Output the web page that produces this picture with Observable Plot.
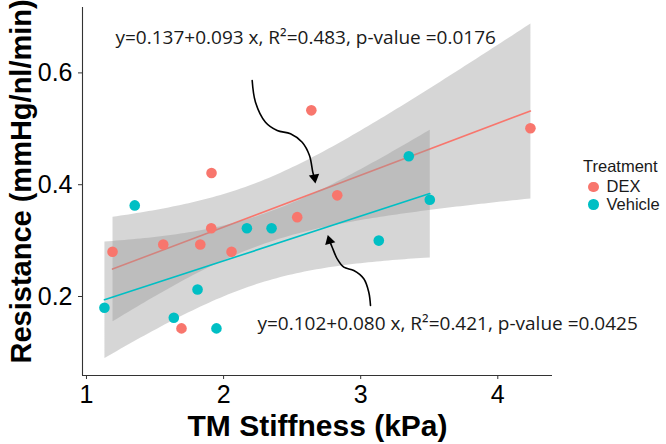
<!DOCTYPE html>
<html>
<head>
<meta charset="utf-8">
<script src="https://cdn.jsdelivr.net/npm/d3@7"></script>
<script src="https://cdn.jsdelivr.net/npm/@observablehq/plot@0.6"></script>
<style>
  body { margin: 0; background: #fff; }
  #wrap { position: relative; width: 666px; height: 444px; }
  #legend { position: absolute; left: 583px; top: 158px; font-family: "Liberation Sans", Arial, sans-serif; color: #1a1a1a; }
  #legend .title { font-size: 16.5px; line-height: 17px; height: 20px; }
  #legend .row { display: flex; align-items: center; height: 17.5px; font-size: 16.5px; }
  #legend .sw { width: 10.5px; height: 10.5px; border-radius: 50%; margin: 0 8px 0 5px; }
</style>
</head>
<body>
<div id="wrap"></div>
<script>
// ---- data ----
const treatments = ["DEX", "Vehicle"];
const colors = ["#F8766D", "#00BFC4"];

const dexStiffness  = [1.19, 1.56, 1.693, 1.83, 1.91, 1.912, 2.058, 2.537, 2.64, 2.829, 4.238];
const dexResistance = [0.280, 0.293, 0.143, 0.293, 0.322, 0.421, 0.280, 0.342, 0.533, 0.381, 0.501];

const vehStiffness  = [1.131, 1.352, 1.637, 1.81, 1.948, 2.17, 2.35, 3.132, 3.351, 3.504];
const vehResistance = [0.180, 0.363, 0.162, 0.2125, 0.143, 0.322, 0.322, 0.300, 0.451, 0.373];

const xTicks = [1, 2, 3, 4];
const yTicks = [0.2, 0.4, 0.6];
const xDomain = [0.971, 4.399];
const yDomain = [0.0587, 0.717];
const xTitle = "TM Stiffness (kPa)";
const yTitle = "Resistance (mmHg/nl/min)";
const legendTitle = "Treatment";

const annotationText = [
  "y=0.137+0.093 x, R\u00B2=0.483, p-value =0.0176",
  "y=0.102+0.080 x, R\u00B2=0.421, p-value =0.0425"
];
const annotationX = [1.2115, 2.247];
const annotationY = [0.6526, 0.1392];

// curved arrow paths (data units)
const arrow1X = [2.2086, 2.2327, 2.3056, 2.391, 2.488, 2.5733, 2.6265, 2.6506, 2.660];
const arrow1Y = [0.5864, 0.5476, 0.5118, 0.497, 0.4911, 0.476, 0.4522, 0.4224, 0.414];
const arrow2X = [3.0715, 3.059, 3.0226, 2.9497, 2.8767, 2.8286, 2.7921, 2.774];
const arrow2Y = [0.1839, 0.2077, 0.2317, 0.2465, 0.2524, 0.2674, 0.2882, 0.299];
const headX = [2.663, 2.772];
const headY = [0.4128, 0.2998];
const headAngle = [171, -16];

// ---- build tables ----
const data = [
  ...dexStiffness.map((x, i) => ({Treatment: "DEX", stiffness: x, resistance: dexResistance[i]})),
  ...vehStiffness.map((x, i) => ({Treatment: "Vehicle", stiffness: x, resistance: vehResistance[i]}))
];
const arrowPts = [
  ...arrow1X.map((x, i) => ({id: 1, x, y: arrow1Y[i]})),
  ...arrow2X.map((x, i) => ({id: 2, x, y: arrow2Y[i]}))
];
const heads = headX.map((x, i) => ({x, y: headY[i], angle: headAngle[i]}));
const annotations = annotationText.map((t, i) => ({t, x: annotationX[i], y: annotationY[i]}));

const font = "'Liberation Sans', Arial, sans-serif";

const plot = Plot.plot({
  width: 666,
  height: 444,
  marginLeft: 82,
  marginRight: 114,
  marginTop: 7,
  marginBottom: 69,
  style: {fontFamily: font, background: "#fff", color: "#000", overflow: "visible"},
  x: {domain: xDomain},
  y: {domain: yDomain},
  color: {domain: treatments, range: colors},
  marks: [
    Plot.linearRegressionY(data, {x: "stiffness", y: "resistance", stroke: "Treatment", fill: "#999999", fillOpacity: 0.4, strokeWidth: 1.6}),
    Plot.dot(data, {x: "stiffness", y: "resistance", fill: "Treatment", r: 5.3}),
    Plot.line(arrowPts, {x: "x", y: "y", z: "id", curve: "catmull-rom", stroke: "#000", strokeWidth: 1.6}),
    Plot.dot(heads, {x: "x", y: "y", symbol: "triangle", r: 3.9, fill: "#000", rotate: "angle"}),
    Plot.text(annotations, {x: "x", y: "y", text: "t", textAnchor: "start", lineAnchor: "bottom", fontFamily: "'Open Sans', sans-serif", fontSize: 19, fill: "#1a1a1a"}),
    Plot.ruleX([xDomain[0]], {stroke: "#333", strokeWidth: 1.1}),
    Plot.ruleY([yDomain[0]], {stroke: "#333", strokeWidth: 1.1}),
    Plot.axisX({ticks: xTicks, tickSize: 4, tickPadding: 6, fontSize: 25, label: null, stroke: "#333", fill: "#000", tickFormat: d3.format("d")}),
    Plot.axisY({ticks: yTicks, tickSize: 4, tickPadding: 6, fontSize: 25, label: null, stroke: "#333", fill: "#000", tickFormat: d3.format(".1f")}),
    Plot.text([xTitle], {text: d => d, frameAnchor: "bottom", dy: 60, lineAnchor: "bottom", fontSize: 30, fontWeight: "bold", fill: "#000"}),
    Plot.text([yTitle], {text: d => d, frameAnchor: "bottom-left", dx: -52, dy: -12, rotate: -90, textAnchor: "start", lineAnchor: "bottom", fontSize: 29, fontWeight: "bold", fill: "#000"})
  ]
});

const wrap = document.getElementById("wrap");
wrap.appendChild(plot);

// legend
const legend = document.createElement("div");
legend.id = "legend";
const title = document.createElement("div");
title.className = "title";
title.textContent = legendTitle;
legend.appendChild(title);
treatments.forEach((t, i) => {
  const row = document.createElement("div");
  row.className = "row";
  const sw = document.createElement("span");
  sw.className = "sw";
  sw.style.background = colors[i];
  const lab = document.createElement("span");
  lab.textContent = t;
  row.appendChild(sw);
  row.appendChild(lab);
  legend.appendChild(row);
});
wrap.appendChild(legend);
</script>
</body>
</html>
